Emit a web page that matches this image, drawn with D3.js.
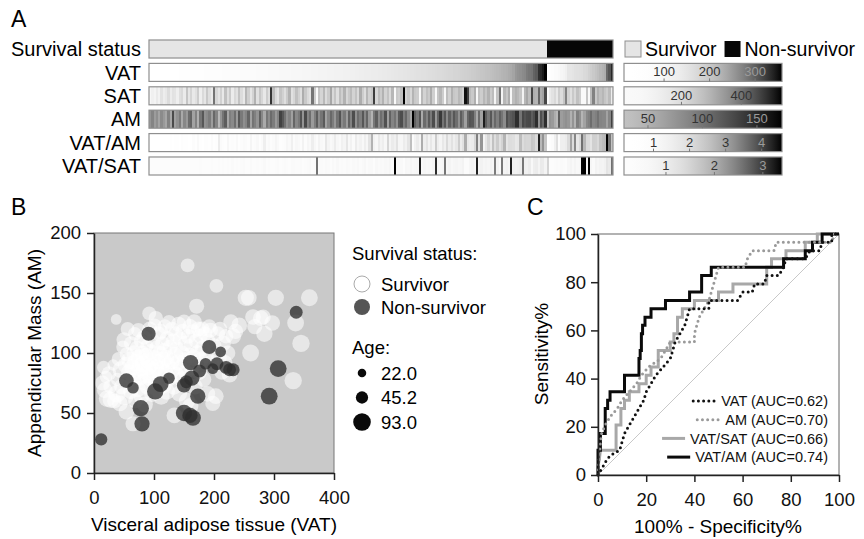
<!DOCTYPE html>
<html lang="en">
<head>
<meta charset="UTF-8">
<title>Body composition and survival</title>
<script src="https://d3js.org/d3.v7.min.js"></script>
<style>
  body { margin: 0; background: #fff; }
  svg { display: block; font-family: "Liberation Sans", Arial, Helvetica, sans-serif; }
</style>
</head>
<body>
<script>
// survivors, sorted by VAT
const survVat = [14,16,18,20,22,25,27,28,32,34, 37,38,39,41,43,45,46,48,50,51, 53,54,55,56,57,58,60,61,62,64,
  65,66,67,68,69,70,71,72,73,74, 75,76,77,78,79,80,81,82,83,84, 85,86,87,88,89,90,91,92,93,94,
  95,96,97,98,99,100,101,102,103,104, 105,106,107,108,109,110,111,112,113,114, 115,116,117,118,119,120,121,122,123,125,
  126,127,129,130,131,132,133,134,135,136, 137,138,140,141,142,143,144,146,147,148, 150,151,152,153,155,156,157,159,160,161,
  162,163,165,166,167,168,170,171,172,174, 175,177,178,180,181,183,185,187,189,190, 192,194,196,198,200,203,204,206,208,210,
  213,215,218,220,223,226,228,232,236,242, 253,258,261,265,268,278,282,284,297,303, 332,336,345,359];
const survAm = [75,88,69,80,62,83,72,61,90,60, 128,66,78,95,58,86,72,105,111,64, 90,51,99,120,78,84,94,68,108,88,
  41,76,100,116,60,92,84,104,70,119, 96,80,88,110,64,100,91,76,113,86, 57,98,82,106,94,72,88,133,120,101,
  79,90,66,110,85,96,123,76,129,88, 104,70,93,116,82,99,118,64,87,108, 94,73,102,122,84,96,68,112,90,126,
  79,105,93,120,86,110,72,48,98,116, 82,104,92,124,66,112,88,100,78,118, 126,94,108,84,60,173,114,98,122,56,
  106,88,118,96,126,72,110,139,100,120, 84,114,94,120,104,78,116,98,66,110, 122,119,92,58,106,64,156,116,96,120,
  84,108,92,114,100,82,126,114,118,123, 146,146,100,130,122,129,130,116,125,146, 77,125,108,146];
const survSat = [70,120,95,150,110,180,135,160,200,140, 180,175,125,190,210,145,260,170,220,155, 185,240,130,205,165,250,195,150,400,215,
  175,230,160,270,190,245,140,210,180,265, 200,155,290,235,170,225,300,185,255,215, 160,240,195,480,280,205,175,260,230,190,
  245,300,185,215,270,230,195,310,250,205, 180,400,240,42,265,220,285,200,245,320, 210,260,190,275,235,300,215,250,280,225,
  265,205,310,240,195,290,230,255,470,215, 280,245,300,225,265,205,290,43,250,235, 275,536,230,260,215,295,250,240,50,285,
  225,270,245,310,235,54,260,290,240,68, 275,230,300,255,245,285,265,230,520,470, 280,250,305,62,270,240,290,260,300,245,
  280,86,265,400,88,290,255,310,74,275, 300,285,260,104,290,320,275,460,305,295, 420,310,330,460];
const survAge = [55,40,60,35,70,50,45,65,30,50, 25,75,40,45,60,70,55,40,55,80, 65,60,50,45,70,60,75,55,50,65,
  55,70,60,45,50,80,60,55,65,50, 70,75,85,45,60,55,70,65,50,80, 60,55,75,40,65,70,60,45,55,60,
  75,50,65,55,70,60,45,55,50,65, 60,70,55,50,60,65,55,70,60,50, 75,60,55,50,60,65,70,55,60,45,
  60,55,65,50,60,55,65,60,70,55, 60,50,65,55,60,50,55,60,65,55, 50,60,55,60,65,45,55,60,55,60,
  55,60,50,65,55,60,50,55,60,55, 60,55,60,55,60,55,50,55,60,55, 50,55,60,55,55,60,45,55,60,50,
  55,60,55,50,55,60,55,60,55,60, 65,60,70,60,55,60,55,65,60,65, 75,70,75,70];

// non-survivors, sorted by VAT
const nonVat = [12,54,65,78,80,91,102,111,125,150,150,154,160,161,163,165,173,176,186,192,198,205,211,220,226,232,292,307,337];
const nonAm  = [28,77,71,54,41,116,68,74,79,73,50,76,48,92,79,46,64,85,91,105,87,91,101,88,86,86,64,87,134];
const nonSat = [8,150,180,210,160,240,200,260,380,230,190,250,210,270,240,49,51,260,55,280,380,250,300,270,290,260,240,280,130];
const nonAge = [45,65,40,80,70,60,80,75,40,60,80,50,70,70,70,75,70,50,40,60,35,50,35,50,50,50,85,85,50];

const rowNames = ["Survival status", "VAT", "SAT", "AM", "VAT/AM", "VAT/SAT"];
const vatTicks = [100, 200, 300];
const satTicks = [200, 400];
const amTicks = [50, 100, 150];
const vatAmTicks = [1, 2, 3, 4];
const vatSatTicks = [1, 2, 3];
const ageLegend = [22.0, 45.2, 93.0];

// ROC curves: [100% - specificity, sensitivity]
const rocVat = [[0,0],[1,1.7],[2,3.4],[3,5.2],[4,6.9],[6,8.6],[9,10.3],[10,13.8],[11,17.2],[13,20.7],[15,24.1],[17,27.6],
  [19,31],[20,34.5],[22,37.9],[24,41.4],[27,44.8],[30,48.3],[31,51.7],[32,55.2],[34,58.6],[36,62.1],[37,65.5],[38,69],
  [46,69],[46,72.4],[58,72.4],[60,75.9],[64,75.9],[65,79.3],[69,79.3],[70,82.8],[75,82.8],[77,86.2],[78,89.7],[86,89.7],
  [88,93.1],[92,93.1],[93,96.6],[97,96.6],[97,100],[100,100]];
const rocAm = [[0,0],[0.5,6.9],[1,13.8],[1.5,17.2],[3,20.7],[5,24.1],[8,27.6],[10,31],[13,34.5],[16,37.9],[18,41.4],
  [21,44.8],[26,48.3],[28,51.7],[30,55.2],[40,55.2],[40,58.6],[41,62.1],[42,65.5],[44,69],[46,72.4],[47,75.9],[48,79.3],
  [49,82.8],[50,86.2],[61,86.2],[62,89.7],[64,93.1],[73,93.1],[74,96.6],[97,96.6],[98,100],[100,100]];
const rocVatSat = [[0,0],[0,3.4],[0.6,6.9],[1,10.3],[7.5,10.3],[7.5,20.7],[9.5,20.7],[9.5,27.6],[11,27.6],[11,31],[13,31],
  [13,34.5],[17,34.5],[17,37.9],[20,37.9],[20,41.4],[22,41.4],[22,44.8],[25,44.8],[25,51.7],[30,51.7],[30,55.2],[31.5,55.2],
  [31.5,58.6],[33,58.6],[33,65.5],[35,65.5],[35,69],[40,69],[40,72.4],[50,72.4],[50,75.9],[56,75.9],[56,79.3],[70,79.3],
  [70,86.2],[72,86.2],[72,89.7],[78,89.7],[78,93.1],[86,93.1],[86,96.6],[91,96.6],[91,100],[100,100]];
const rocVatAm = [[0,0],[0,10.3],[1,10.3],[1,17.2],[3,17.2],[3,27.6],[4,27.6],[4,31],[5,31],[5,34.5],[11,34.5],[11,41.4],
  [17,41.4],[17,48.3],[17.5,48.3],[17.5,51.7],[18,51.7],[18,58.6],[18.5,58.6],[18.5,62.1],[19.5,62.1],[19.5,65.5],[22,65.5],
  [22,69],[28,69],[28,72.4],[38,72.4],[38,75.9],[43,75.9],[43,82.8],[47,82.8],[47,86.2],[77,86.2],[77,89.7],[86,89.7],
  [86,93.1],[89,93.1],[89,96.6],[93,96.6],[93,100],[100,100]];
const rocNames = ["VAT (AUC=0.62)", "AM (AUC=0.70)", "VAT/SAT (AUC=0.66)", "VAT/AM (AUC=0.74)"];

const width = 864, height = 539;
const svg = d3.select("body").append("svg")
  .attr("width", width)
  .attr("height", height);

// ---------- patients ----------
const patients = [];
survVat.forEach((v, i) => patients.push({ surv: true, vat: v, am: survAm[i], sat: survSat[i], age: survAge[i] }));
nonVat.forEach((v, i) => patients.push({ surv: false, vat: v, am: nonAm[i], sat: nonSat[i], age: nonAge[i] }));
patients.forEach(d => { d.vatAm = d.vat / d.am; d.vatSat = d.vat / d.sat; });
const ordered = patients.filter(d => d.surv).sort((a, b) => a.vat - b.vat)
  .concat(patients.filter(d => !d.surv).sort((a, b) => a.vat - b.vat));

// grey ramp: lo = brightness at the low end, gamma bends the ramp
function greyRamp(key, lo, gamma) {
  const t = d3.scaleLinear().domain(d3.extent(patients, d => d[key])).range([0, 1]).clamp(true);
  const level = v => lo * (1 - Math.pow(t(v), gamma));
  const color = v => { const g = Math.round(255 * level(v)); return d3.rgb(g, g, g).toString(); };
  return { key, t, level, color, domain: t.domain() };
}
const metrics = {
  "VAT": Object.assign(greyRamp("vat", 1, 2.5), { ticks: vatTicks }),
  "SAT": Object.assign(greyRamp("sat", 0.98, 2.1), { ticks: satTicks }),
  "AM": Object.assign(greyRamp("am", 0.76, 1.3), { ticks: amTicks }),
  "VAT/AM": Object.assign(greyRamp("vatAm", 1, 2.3), { ticks: vatAmTicks }),
  "VAT/SAT": Object.assign(greyRamp("vatSat", 0.99, 2.1), { ticks: vatSatTicks })
};

// ---------- panel A ----------
svg.append("text").attr("x", 11).attr("y", 27).attr("font-size", 23).text("A");

const yA = d3.scaleBand().domain(rowNames).range([40, 175]).paddingInner(0.23);
const xA = d3.scaleBand().domain(d3.range(ordered.length)).range([149, 613]);

const rowG = svg.append("g").selectAll("g")
  .data(rowNames)
  .join("g")
  .attr("transform", d => `translate(0,${yA(d)})`);

rowG.append("text")
  .attr("x", 141)
  .attr("y", yA.bandwidth() / 2)
  .attr("dy", "0.36em")
  .attr("text-anchor", "end")
  .attr("font-size", 20)
  .text(d => d);

rowG.each(function(name) {
  const g = d3.select(this);
  const fill = name === "Survival status"
    ? (d => d.surv ? "#e5e5e5" : "#070707")
    : (d => metrics[name].color(d[metrics[name].key]));
  g.selectAll("rect.cell")
    .data(ordered)
    .join("rect")
    .attr("class", "cell")
    .attr("x", (d, i) => xA(i))
    .attr("y", 0)
    .attr("width", (d, i) => i === ordered.length - 1 ? xA.bandwidth() : xA.bandwidth() + 1)
    .attr("height", yA.bandwidth())
    .attr("fill", fill)
    .attr("shape-rendering", "crispEdges");
  g.append("rect")
    .attr("x", 149).attr("y", 0)
    .attr("width", 464).attr("height", yA.bandwidth())
    .attr("fill", "none")
    .attr("stroke", "#8f8f8f")
    .attr("stroke-width", 1.2);
});

// survival legend
const legA = svg.append("g").attr("transform", `translate(0,${yA("Survival status")})`);
legA.append("rect").attr("x", 625).attr("y", 1).attr("width", 16).attr("height", 16)
  .attr("fill", "#e5e5e5").attr("stroke", "#8f8f8f");
const survTxt = legA.append("text").attr("x", 645).attr("y", yA.bandwidth() / 2).attr("dy", "0.36em")
  .attr("font-size", 19.5).text("Survivor");
const survEnd = 645 + survTxt.node().getComputedTextLength();
legA.append("rect").attr("x", survEnd + 8).attr("y", 1).attr("width", 16).attr("height", 16).attr("fill", "#070707");
legA.append("text").attr("x", survEnd + 28).attr("y", yA.bandwidth() / 2).attr("dy", "0.36em")
  .attr("font-size", 19.5).text("Non-survivor");

// colour bars
const defs = svg.append("defs");
rowNames.slice(1).forEach((name, k) => {
  const m = metrics[name];
  const xBar = d3.scaleLinear().domain(m.domain).range([624, 782]);
  const grad = defs.append("linearGradient").attr("id", "grad" + k);
  d3.range(0, 1.0001, 0.05).forEach(o => {
    grad.append("stop").attr("offset", o)
      .attr("stop-color", m.color(xBar.invert(624 + o * 158)));
  });
  const g = svg.append("g").attr("transform", `translate(0,${yA(name)})`);
  g.append("rect").attr("x", 624).attr("y", 0).attr("width", 158).attr("height", yA.bandwidth())
    .attr("fill", `url(#grad${k})`).attr("stroke", "#8f8f8f").attr("stroke-width", 1.2);
  const tk = g.selectAll("g.tk").data(m.ticks).join("g").attr("class", "tk")
    .attr("transform", d => `translate(${xBar(d)},0)`);
  tk.append("line").attr("y1", yA.bandwidth() - 3).attr("y2", yA.bandwidth())
    .attr("stroke", "#777").attr("stroke-width", 1);
  tk.append("text")
    .attr("y", 13)
    .attr("text-anchor", "middle")
    .attr("font-size", 13)
    .attr("fill", d => m.level(d) < 0.4 ? "#9a9a9a" : "#333")
    .text(d => d);
});

// ---------- panel B ----------
svg.append("text").attr("x", 11).attr("y", 215).attr("font-size", 23).text("B");

const xB = d3.scaleLinear().domain([0, 400]).range([94, 334]);
const yB = d3.scaleLinear().domain([0, 200]).range([473, 233]);
const rAge = d3.scaleSqrt().domain([0, 93]).range([0, 8.8]);

svg.append("rect").attr("x", 94).attr("y", 233).attr("width", 240).attr("height", 240)
  .attr("fill", "#c9c9c9").attr("stroke", "#777").attr("stroke-width", 1);

svg.append("g").selectAll("circle")
  .data(patients.filter(d => d.surv))
  .join("circle")
  .attr("cx", d => xB(d.vat))
  .attr("cy", d => yB(d.am))
  .attr("r", d => rAge(d.age) + 0.8)
  .attr("fill", "#fff")
  .attr("fill-opacity", 0.55);

svg.append("g").selectAll("circle")
  .data(patients.filter(d => !d.surv))
  .join("circle")
  .attr("cx", d => xB(d.vat))
  .attr("cy", d => yB(d.am))
  .attr("r", d => rAge(d.age))
  .attr("fill", "#2e2e2e")
  .attr("fill-opacity", 0.78);

function styleAxis(g) {
  g.selectAll("path.domain").attr("stroke", "#222").attr("stroke-width", 1.5);
  g.selectAll(".tick line").attr("stroke", "#222").attr("stroke-width", 1.5);
  g.selectAll(".tick text").attr("font-size", 18.5).attr("fill", "#111")
    .attr("font-family", "Liberation Sans, Arial, sans-serif");
}

svg.append("g").attr("transform", "translate(0,473)")
  .call(d3.axisBottom(xB).tickValues([0, 100, 200, 300, 400]).tickSize(7).tickSizeOuter(0).tickPadding(11))
  .call(styleAxis);
svg.append("g").attr("transform", "translate(94,0)")
  .call(d3.axisLeft(yB).tickValues([0, 50, 100, 150, 200]).tickSize(7).tickSizeOuter(0).tickPadding(6))
  .call(styleAxis);

svg.append("text").attr("x", 214).attr("y", 531).attr("text-anchor", "middle")
  .attr("font-size", 19).text("Visceral adipose tissue (VAT)");
svg.append("text").attr("transform", "translate(34,353) rotate(-90)").attr("text-anchor", "middle")
  .attr("dy", "0.35em").attr("font-size", 19).text("Appendicular Mass (AM)");

// legend B
const legB = svg.append("g");
legB.append("text").attr("x", 352).attr("y", 260).attr("font-size", 18.5).text("Survival status:");
const statusLeg = [["Survivor", true], ["Non-survivor", false]];
statusLeg.forEach(([label, s], i) => {
  const cy = 284 + i * 23;
  legB.append("circle").attr("cx", 362).attr("cy", cy).attr("r", 8)
    .attr("fill", s ? "#fff" : "#555").attr("stroke", s ? "#aaa" : "none");
  legB.append("text").attr("x", 381).attr("y", cy).attr("dy", "0.36em").attr("font-size", 18.5).text(label);
});
legB.append("text").attr("x", 352).attr("y", 354).attr("font-size", 18.5).text("Age:");
ageLegend.forEach((a, i) => {
  const cy = 373 + i * 24.5;
  legB.append("circle").attr("cx", 362).attr("cy", cy).attr("r", rAge(a)).attr("fill", "#0a0a0a");
  legB.append("text").attr("x", 381).attr("y", cy).attr("dy", "0.36em").attr("font-size", 18.5).text(a.toFixed(1));
});

// ---------- panel C ----------
svg.append("text").attr("x", 527).attr("y", 215).attr("font-size", 23).text("C");

const xC = d3.scaleLinear().domain([0, 100]).range([598, 839]);
const yC = d3.scaleLinear().domain([0, 100]).range([475, 234]);

svg.append("rect").attr("x", 598).attr("y", 234).attr("width", 241).attr("height", 241)
  .attr("fill", "none").attr("stroke", "#666").attr("stroke-width", 1);
svg.append("line")
  .attr("x1", xC(0)).attr("y1", yC(0)).attr("x2", xC(100)).attr("y2", yC(100))
  .attr("stroke", "#c8c8c8").attr("stroke-width", 1);

const line = d3.line().x(d => xC(d[0])).y(d => yC(d[1]));
const rocStyles = [
  { data: rocVat, color: "#111", dash: "0 5.2", cap: "round", w: 3 },
  { data: rocAm, color: "#9a9a9a", dash: "0 5.2", cap: "round", w: 3 },
  { data: rocVatSat, color: "#a8a8a8", dash: null, cap: "butt", w: 3 },
  { data: rocVatAm, color: "#0a0a0a", dash: null, cap: "butt", w: 3 }
];
[2, 3, 1, 0].forEach(i => {
  const s = rocStyles[i];
  svg.append("path")
    .datum(s.data)
    .attr("d", line)
    .attr("fill", "none")
    .attr("stroke", s.color)
    .attr("stroke-width", s.w)
    .attr("stroke-linecap", s.cap)
    .attr("stroke-linejoin", "miter")
    .attr("stroke-dasharray", s.dash);
});

svg.append("g").attr("transform", "translate(0,475)")
  .call(d3.axisBottom(xC).tickValues([0, 20, 40, 60, 80, 100]).tickSize(7).tickSizeOuter(0).tickPadding(11))
  .call(styleAxis);
svg.append("g").attr("transform", "translate(598,0)")
  .call(d3.axisLeft(yC).tickValues([0, 20, 40, 60, 80, 100]).tickSize(7).tickSizeOuter(0).tickPadding(5))
  .call(styleAxis);

svg.append("text").attr("x", 718).attr("y", 533).attr("text-anchor", "middle")
  .attr("font-size", 19).text("100% - Specificity%");
svg.append("text").attr("transform", "translate(541,354) rotate(-90)").attr("text-anchor", "middle")
  .attr("dy", "0.35em").attr("font-size", 19).text("Sensitivity%");

// legend C
rocNames.forEach((name, i) => {
  const s = rocStyles[i];
  const cy = 401 + i * 18.7;
  const t = svg.append("text").attr("x", 828).attr("y", cy).attr("dy", "0.36em")
    .attr("text-anchor", "end").attr("font-size", 14.5).attr("fill", "#111").text(name);
  const x0 = 828 - t.node().getComputedTextLength() - 5;
  svg.append("line")
    .attr("x1", x0 - 23).attr("x2", x0).attr("y1", cy).attr("y2", cy)
    .attr("stroke", s.color).attr("stroke-width", s.w)
    .attr("stroke-linecap", s.cap).attr("stroke-dasharray", s.dash);
});
</script>
</body>
</html>
